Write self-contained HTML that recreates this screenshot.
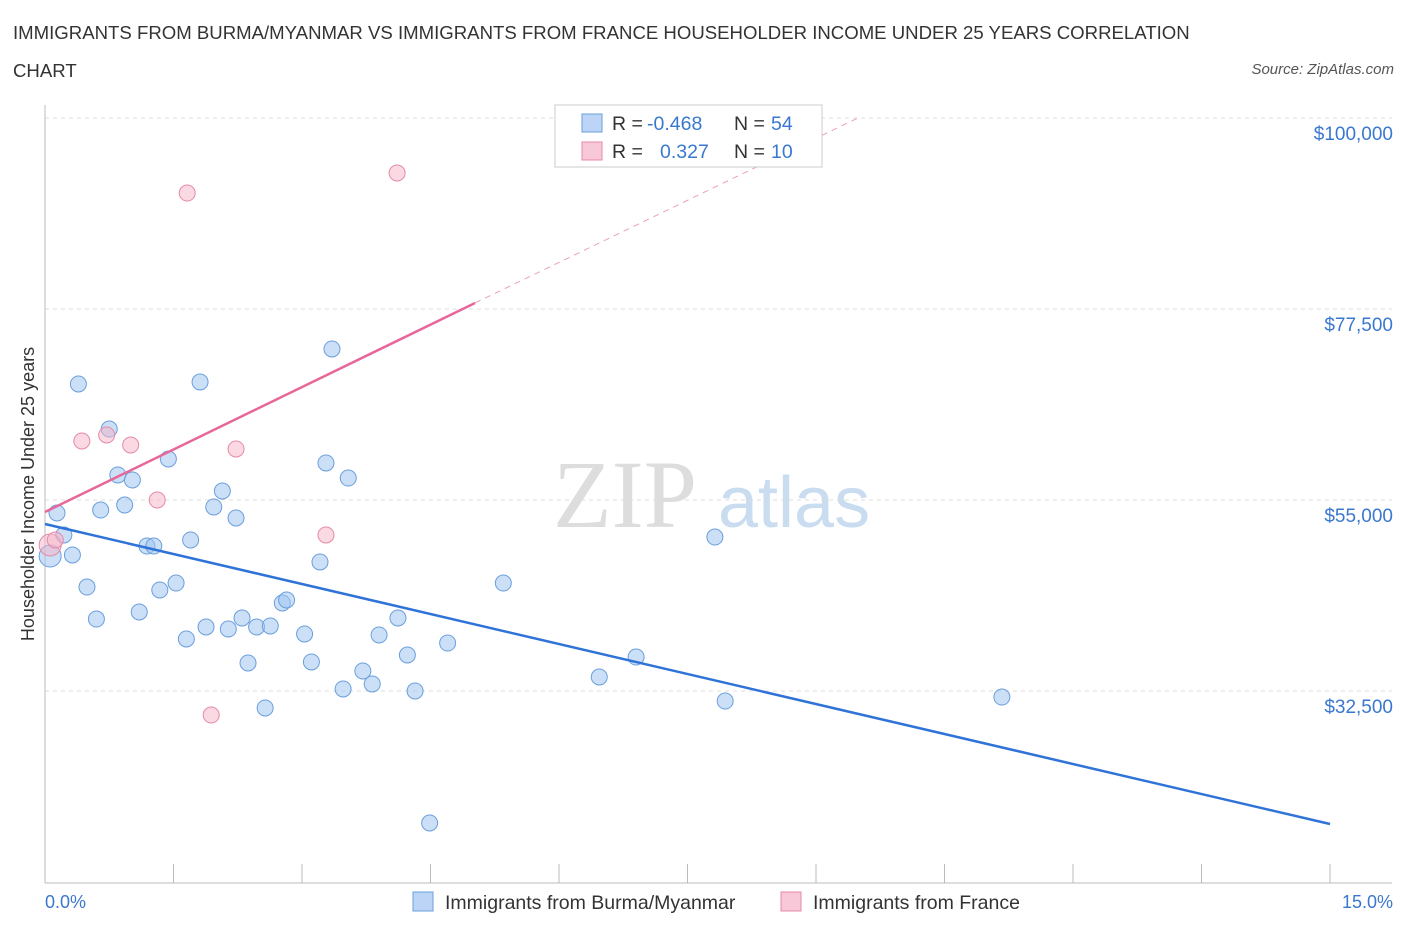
<!DOCTYPE html>
<html><head><meta charset="utf-8">
<style>
body{margin:0;background:#fff;font-family:"Liberation Sans",sans-serif;}
#wrap{position:relative;width:1406px;height:930px;overflow:hidden;}
.t{position:absolute;white-space:nowrap;}
</style></head>
<body>
<div id="wrap">
<div class="t" style="left:13px;top:14px;font-size:18.6px;color:#333;line-height:38px;width:1250px;white-space:normal">IMMIGRANTS FROM BURMA/MYANMAR VS IMMIGRANTS FROM FRANCE HOUSEHOLDER INCOME UNDER 25 YEARS CORRELATION<br>CHART</div>
<div class="t" style="right:12px;top:61px;font-size:15px;color:#555;font-style:italic">Source: ZipAtlas.com</div>
<svg id="svg" width="1406" height="930" style="position:absolute;left:0;top:0"></svg>
</div>
<script>
const blueX=[0.06,0.14,0.22,0.32,0.39,0.49,0.60,0.65,0.75,0.85,0.93,1.02,1.10,1.19,1.27,1.34,1.44,1.53,1.65,1.70,1.81,1.88,1.97,2.07,2.14,2.23,2.30,2.37,2.47,2.57,2.63,2.77,2.82,3.03,3.11,3.21,3.28,3.35,3.48,3.54,3.71,3.82,3.90,4.12,4.23,4.32,4.49,4.70,5.35,6.47,6.90,7.82,7.94,11.17];
const blueY=[48400,53470,50880,48520,68670,44750,40980,53820,63360,57950,54410,57360,41810,49580,49580,44400,59830,45220,38630,50290,68900,40040,54180,56060,39800,52880,41100,35800,40040,30500,40160,42870,43220,39220,35920,47700,59360,72790,32740,57590,34860,33330,39100,41100,36740,32500,16950,38150,45220,34150,36500,50640,31320,31790];
const pinkX=[0.06,0.12,0.43,0.72,1.00,1.31,1.66,1.94,2.23,3.28,4.11];
const pinkY=[49700,50290,61950,62660,61480,55000,91160,29670,61010,50880,93520];
const blueTrend=[[0,52170],[15,16830]];
const pinkTrend=[[0,53590],[5.02,78210],[9.51,100100]];
const yTicks=[100000,77500,55000,32500];
const yTickLabels=["$100,000","$77,500","$55,000","$32,500"];

const X=v=>45+v*1285/15;
const Y=v=>500-(v-55000)*191/22500;
const svg=document.getElementById('svg');
const NS='http://www.w3.org/2000/svg';
function mk(tag,attrs){const e=document.createElementNS(NS,tag);for(const k in attrs)e.setAttribute(k,attrs[k]);svg.appendChild(e);return e;}

let w=mk('text',{x:553,y:527,'font-size':96,'font-family':'Liberation Serif,serif',fill:'#ddd'});w.textContent='ZIP';


w=mk('text',{x:718,y:527,'font-size':72,'font-family':'Liberation Sans,sans-serif',fill:'#c9dcf0'});w.textContent='atlas';



yTicks.forEach((v,i)=>{
 const g=mk('line',{x1:45,x2:1392,y1:Y(v),y2:Y(v),stroke:'#ddd','stroke-dasharray':'4,4'});
 
 
 const t=mk('text',{x:1393,y:Y(v)+22,'text-anchor':'end','font-size':19,fill:'#3a78d0'});t.textContent=yTickLabels[i];
 
 
});
let a=mk('line',{x1:45,x2:45,y1:105,y2:883,stroke:'#bbb'});


a=mk('line',{x1:45,x2:1392,y1:883,y2:883,stroke:'#bbb'});


for(let i=0;i<=10;i++){const tk=mk('line',{x1:X(i*1.5),x2:X(i*1.5),y1:864,y2:883,stroke:'#bbb'});
 
 }
let t=mk('text',{x:45,y:908,'font-size':18,fill:'#3a78d0'});t.textContent='0.0%';


t=mk('text',{x:1393,y:908,'text-anchor':'end','font-size':18,fill:'#3a78d0'});t.textContent='15.0%';


t=mk('text',{x:0,y:0,'font-size':18,fill:'#333',transform:'translate(34,494) rotate(-90)','text-anchor':'middle'});t.textContent='Householder Income Under 25 years';



blueX.forEach((x,i)=>{const c=mk('circle',{cx:X(x),cy:Y(blueY[i]),r:i==0?11:8,fill:'rgba(160,196,240,0.55)',stroke:'#6a9fdc','stroke-width':1});
 
 });
pinkX.forEach((x,i)=>{const c=mk('circle',{cx:X(x),cy:Y(pinkY[i]),r:i==0?11:8,fill:'rgba(245,180,200,0.5)',stroke:'#e48aa8','stroke-width':1});
 
 });

let l=mk('line',{x1:X(blueTrend[0][0]),y1:Y(blueTrend[0][1]),x2:X(blueTrend[1][0]),y2:Y(blueTrend[1][1]),stroke:'#2f73d8','stroke-width':2.5});


l=mk('line',{x1:X(pinkTrend[0][0]),y1:Y(pinkTrend[0][1]),x2:X(pinkTrend[1][0]),y2:Y(pinkTrend[1][1]),stroke:'#e8679a','stroke-width':2.5});


l=mk('line',{x1:X(pinkTrend[1][0]),y1:Y(pinkTrend[1][1]),x2:X(pinkTrend[2][0]),y2:Y(pinkTrend[2][1]),stroke:'#eaa0bc','stroke-width':1,'stroke-dasharray':'6,5'});



let r=mk('rect',{x:555,y:105,width:267,height:62,fill:'#fff',stroke:'#ccc'});


[['#bcd4f5','#6a9fdc','-0.468','54',123],['#f9c8d8','#e48aa8',' 0.327','10',151]].forEach(d=>{
 const s=mk('rect',{x:582,y:d[4]-9,width:20,height:18,fill:d[0],stroke:d[1]});
 
 
 const tx=mk('text',{x:612,y:d[4]+7,'font-size':19.5,fill:'#333'});
 tx.innerHTML='R = <tspan fill="#3a78d0" x="'+(d[2][0]==' '?660:647)+'">'+d[2].trim()+'</tspan><tspan x="734" fill="#333">N = </tspan><tspan fill="#3a78d0" x="771">'+d[3]+'</tspan>';
 
 
});
[[413,'#bcd4f5','#6a9fdc','Immigrants from Burma/Myanmar','legend-burma'],[781,'#f9c8d8','#e48aa8','Immigrants from France','legend-france']].forEach(d=>{
 const s=mk('rect',{x:d[0],y:892,width:20,height:19,fill:d[1],stroke:d[2]});
 
 
 const tx=mk('text',{x:d[0]+32,y:909,'font-size':19.5,fill:'#333'});tx.textContent=d[3];
 
 
});
</script>
</body></html>
